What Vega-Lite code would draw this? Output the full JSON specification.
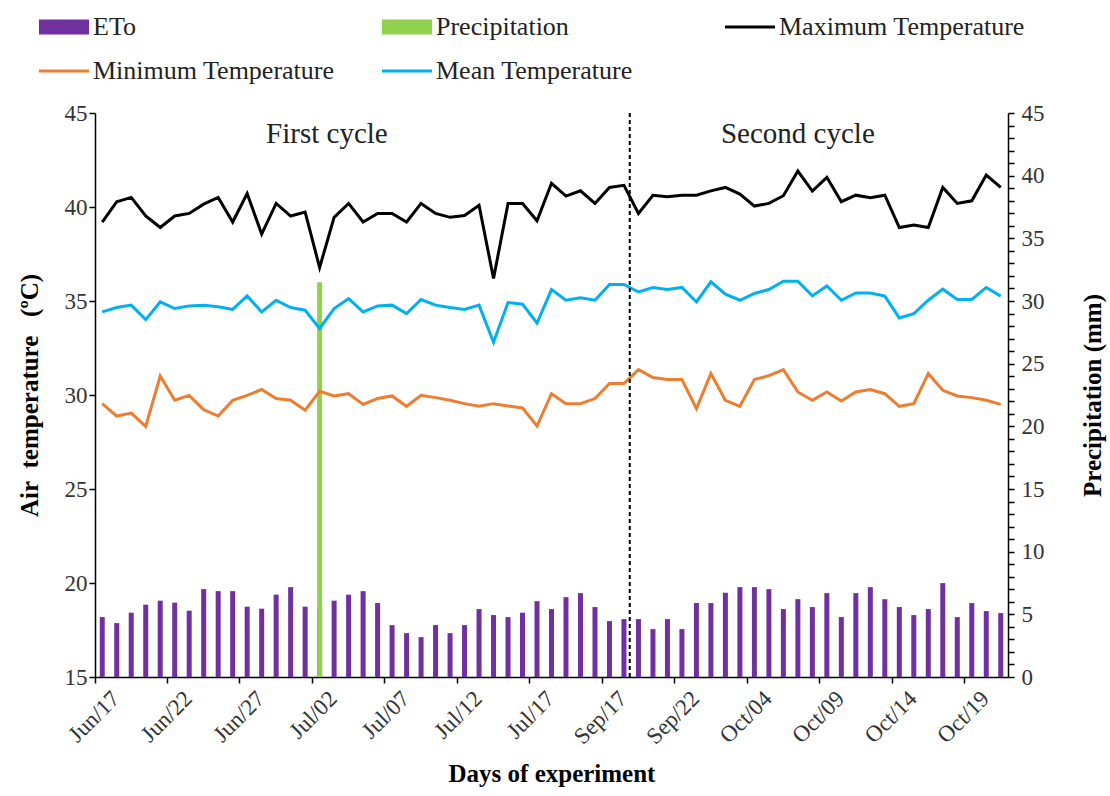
{
  "$schema": "https://vega.github.io/schema/vega-lite/v6.json",
  "width": 913,
  "height": 564,
  "autosize": {"type": "none"},
  "padding": {"left": 95, "top": 113, "right": 102, "bottom": 119},
  "background": "white",
  "config": {
    "font": "Liberation Serif",
    "view": {"stroke": null},
    "axis": {
      "grid": false,
      "domainColor": "#000",
      "domainWidth": 1.5,
      "tickColor": "#000",
      "tickWidth": 1.5,
      "tickSize": 6,
      "labelFont": "Liberation Serif",
      "labelFontSize": 23,
      "labelColor": "#333",
      "titleFont": "Liberation Serif",
      "titleFontSize": 25,
      "titleFontWeight": "bold",
      "titleColor": "#000"
    }
  },
  "data": {
    "values": [
      {"day": "Jun/17", "eto": 4.78, "precip": 0, "tmax": 39.2, "tmin": 29.54, "tmean": 34.42},
      {"day": "Jun/18", "eto": 4.30, "precip": 0, "tmax": 40.28, "tmin": 28.88, "tmean": 34.65},
      {"day": "Jun/19", "eto": 5.13, "precip": 0, "tmax": 40.51, "tmin": 29.04, "tmean": 34.78},
      {"day": "Jun/20", "eto": 5.77, "precip": 0, "tmax": 39.52, "tmin": 28.33, "tmean": 34.01},
      {"day": "Jun/21", "eto": 6.09, "precip": 0, "tmax": 38.91, "tmin": 31.01, "tmean": 34.95},
      {"day": "Jun/22", "eto": 5.93, "precip": 0, "tmax": 39.52, "tmin": 29.72, "tmean": 34.6},
      {"day": "Jun/23", "eto": 5.29, "precip": 0, "tmax": 39.66, "tmin": 29.98, "tmean": 34.74},
      {"day": "Jun/24", "eto": 7.01, "precip": 0, "tmax": 40.15, "tmin": 29.22, "tmean": 34.78},
      {"day": "Jun/25", "eto": 6.85, "precip": 0, "tmax": 40.51, "tmin": 28.88, "tmean": 34.69},
      {"day": "Jun/26", "eto": 6.85, "precip": 0, "tmax": 39.2, "tmin": 29.72, "tmean": 34.55},
      {"day": "Jun/27", "eto": 5.61, "precip": 0, "tmax": 40.72, "tmin": 29.98, "tmean": 35.27},
      {"day": "Jun/28", "eto": 5.45, "precip": 0, "tmax": 38.56, "tmin": 30.29, "tmean": 34.42},
      {"day": "Jun/29", "eto": 6.57, "precip": 0, "tmax": 40.19, "tmin": 29.81, "tmean": 35.04},
      {"day": "Jun/30", "eto": 7.17, "precip": 0, "tmax": 39.52, "tmin": 29.72, "tmean": 34.65},
      {"day": "Jul/01", "eto": 5.61, "precip": 0, "tmax": 39.73, "tmin": 29.19, "tmean": 34.51},
      {"day": "Jul/02", "eto": 5.5, "precip": 31.5, "tmax": 36.78, "tmin": 30.2, "tmean": 33.54},
      {"day": "Jul/03", "eto": 6.09, "precip": 0, "tmax": 39.45, "tmin": 29.95, "tmean": 34.6},
      {"day": "Jul/04", "eto": 6.57, "precip": 0, "tmax": 40.19, "tmin": 30.07, "tmean": 35.13},
      {"day": "Jul/05", "eto": 6.85, "precip": 0, "tmax": 39.2, "tmin": 29.5, "tmean": 34.42},
      {"day": "Jul/06", "eto": 5.90, "precip": 0, "tmax": 39.66, "tmin": 29.81, "tmean": 34.74},
      {"day": "Jul/07", "eto": 4.14, "precip": 0, "tmax": 39.66, "tmin": 29.95, "tmean": 34.78},
      {"day": "Jul/08", "eto": 3.50, "precip": 0, "tmax": 39.2, "tmin": 29.4, "tmean": 34.33},
      {"day": "Jul/09", "eto": 3.18, "precip": 0, "tmax": 40.19, "tmin": 29.98, "tmean": 35.08},
      {"day": "Jul/10", "eto": 4.14, "precip": 0, "tmax": 39.66, "tmin": 29.86, "tmean": 34.78},
      {"day": "Jul/11", "eto": 3.50, "precip": 0, "tmax": 39.45, "tmin": 29.72, "tmean": 34.65},
      {"day": "Jul/12", "eto": 4.14, "precip": 0, "tmax": 39.55, "tmin": 29.54, "tmean": 34.55},
      {"day": "Jul/13", "eto": 5.42, "precip": 0, "tmax": 40.09, "tmin": 29.4, "tmean": 34.78},
      {"day": "Jul/14", "eto": 4.94, "precip": 0, "tmax": 36.2, "tmin": 29.54, "tmean": 32.8},
      {"day": "Jul/15", "eto": 4.78, "precip": 0, "tmax": 40.19, "tmin": 29.41, "tmean": 34.92},
      {"day": "Jul/16", "eto": 5.13, "precip": 0, "tmax": 40.19, "tmin": 29.31, "tmean": 34.83},
      {"day": "Jul/17", "eto": 6.05, "precip": 0, "tmax": 39.27, "tmin": 28.35, "tmean": 33.83},
      {"day": "Jul/18", "eto": 5.42, "precip": 0, "tmax": 41.26, "tmin": 30.07, "tmean": 35.61},
      {"day": "Jul/19", "eto": 6.37, "precip": 0, "tmax": 40.58, "tmin": 29.54, "tmean": 35.04},
      {"day": "Jul/20", "eto": 6.69, "precip": 0, "tmax": 40.86, "tmin": 29.54, "tmean": 35.17},
      {"day": "Jul/21", "eto": 5.58, "precip": 0, "tmax": 40.19, "tmin": 29.81, "tmean": 35.04},
      {"day": "Sep/17", "eto": 4.46, "precip": 0, "tmax": 41.04, "tmin": 30.61, "tmean": 35.88},
      {"day": "Sep/18", "eto": 4.62, "precip": 0, "tmax": 41.15, "tmin": 30.61, "tmean": 35.88},
      {"day": "Sep/19", "eto": 4.62, "precip": 0, "tmax": 39.66, "tmin": 31.35, "tmean": 35.48},
      {"day": "Sep/20", "eto": 3.82, "precip": 0, "tmax": 40.62, "tmin": 30.93, "tmean": 35.72},
      {"day": "Sep/21", "eto": 4.62, "precip": 0, "tmax": 40.54, "tmin": 30.82, "tmean": 35.61},
      {"day": "Sep/22", "eto": 3.82, "precip": 0, "tmax": 40.63, "tmin": 30.82, "tmean": 35.72},
      {"day": "Sep/23", "eto": 5.90, "precip": 0, "tmax": 40.63, "tmin": 29.28, "tmean": 34.95},
      {"day": "Sep/24", "eto": 5.90, "precip": 0, "tmax": 40.86, "tmin": 31.14, "tmean": 36.02},
      {"day": "Sep/25", "eto": 6.72, "precip": 0, "tmax": 41.04, "tmin": 29.72, "tmean": 35.36},
      {"day": "Sep/26", "eto": 7.17, "precip": 0, "tmax": 40.69, "tmin": 29.4, "tmean": 35.04},
      {"day": "Oct/04", "eto": 7.17, "precip": 0, "tmax": 40.05, "tmin": 30.82, "tmean": 35.4},
      {"day": "Oct/05", "eto": 7.01, "precip": 0, "tmax": 40.19, "tmin": 31.03, "tmean": 35.61},
      {"day": "Oct/06", "eto": 5.42, "precip": 0, "tmax": 40.6, "tmin": 31.35, "tmean": 36.05},
      {"day": "Oct/07", "eto": 6.21, "precip": 0, "tmax": 41.91, "tmin": 30.16, "tmean": 36.05},
      {"day": "Oct/08", "eto": 5.58, "precip": 0, "tmax": 40.85, "tmin": 29.72, "tmean": 35.27},
      {"day": "Oct/09", "eto": 6.69, "precip": 0, "tmax": 41.58, "tmin": 30.16, "tmean": 35.8},
      {"day": "Oct/10", "eto": 4.78, "precip": 0, "tmax": 40.28, "tmin": 29.68, "tmean": 35.04},
      {"day": "Oct/11", "eto": 6.69, "precip": 0, "tmax": 40.63, "tmin": 30.16, "tmean": 35.43},
      {"day": "Oct/12", "eto": 7.17, "precip": 0, "tmax": 40.49, "tmin": 30.29, "tmean": 35.43},
      {"day": "Oct/13", "eto": 6.21, "precip": 0, "tmax": 40.63, "tmin": 30.07, "tmean": 35.26},
      {"day": "Oct/14", "eto": 5.58, "precip": 0, "tmax": 38.91, "tmin": 29.4, "tmean": 34.1},
      {"day": "Oct/15", "eto": 4.94, "precip": 0, "tmax": 39.04, "tmin": 29.54, "tmean": 34.33},
      {"day": "Oct/16", "eto": 5.42, "precip": 0, "tmax": 38.91, "tmin": 31.14, "tmean": 35.04},
      {"day": "Oct/17", "eto": 7.49, "precip": 0, "tmax": 41.04, "tmin": 30.25, "tmean": 35.63},
      {"day": "Oct/18", "eto": 4.78, "precip": 0, "tmax": 40.19, "tmin": 29.95, "tmean": 35.08},
      {"day": "Oct/19", "eto": 5.90, "precip": 0, "tmax": 40.33, "tmin": 29.86, "tmean": 35.08},
      {"day": "Oct/20", "eto": 5.26, "precip": 0, "tmax": 41.7, "tmin": 29.72, "tmean": 35.72},
      {"day": "Oct/21", "eto": 5.10, "precip": 0, "tmax": 41.04, "tmin": 29.5, "tmean": 35.26}
    ]
  },
  "encoding": {
    "x": {
      "field": "day",
      "type": "nominal",
      "sort": null,
      "scale": {"paddingInner": 0, "paddingOuter": 0},
      "axis": {
        "values": ["Jun/17", "Jun/22", "Jun/27", "Jul/02", "Jul/07", "Jul/12", "Jul/17", "Sep/17", "Sep/22", "Oct/04", "Oct/09", "Oct/14", "Oct/19"],
        "bandPosition": 0,
        "labelAngle": -45,
        "labelOffset": 6,
        "labelFontSize": 23,
        "labelPadding": 4,
        "title": "Days of experiment",
        "titleFontSize": 25,
        "titlePadding": 13
      }
    }
  },
  "layer": [
    {
      "layer": [
        {
          "mark": {"type": "bar", "size": 5},
          "encoding": {
            "y": {
              "field": "eto", "type": "quantitative",
              "scale": {"domain": [0, 45], "nice": false},
              "axis": {
                "orient": "right",
                "values": [0,1,2,3,4,5,6,7,8,9,10,11,12,13,14,15,16,17,18,19,20,21,22,23,24,25,26,27,28,29,30,31,32,33,34,35,36,37,38,39,40,41,42,43,44,45],
                "labelExpr": "datum.value % 5 === 0 ? datum.label : ''",
                "labelPadding": 7,
                "title": "Precipitation (mm)",
                "titleAngle": -90,
                "titleBaseline": "top",
                "titlePadding": 36
              }
            },
            "color": {
              "datum": "ETo",
              "type": "nominal",
              "scale": {
                "domain": ["ETo", "Precipitation", "Maximum Temperature", "Minimum Temperature", "Mean Temperature"],
                "range": ["#7030A0", "#92D050", "#000000", "#ED7D31", "#00B0F0"]
              },
              "legend": {
                "title": null,
                "orient": "none",
                "legendX": -44,
                "legendY": -99,
                "direction": "horizontal",
                "columns": 3,
                "gridAlign": "all",
                "columnPadding": 36,
                "rowPadding": 18,
                "padding": 0,
                "symbolSize": 900,
                "labelOffset": 16,
                "labelFont": "Liberation Serif",
                "labelFontSize": 26,
                "labelColor": "#222",
                "labelLimit": 400,
                "encode": {
                  "symbols": {
                    "update": {
                      "shape": {"signal": "datum.value === 'ETo' || datum.value === 'Precipitation' ? 'M-1.67,-0.5H1.67V0.5H-1.67Z' : 'M-1.67,0H1.67'"},
                      "fill": {"signal": "datum.value === 'ETo' || datum.value === 'Precipitation' ? scale('color', datum.value) : 'transparent'"},
                      "stroke": {"signal": "scale('color', datum.value)"},
                      "strokeWidth": {"signal": "datum.value === 'ETo' || datum.value === 'Precipitation' ? 0 : 3"},
                      "opacity": {"value": 1},
                      "fillOpacity": {"value": 1},
                      "strokeOpacity": {"value": 1}
                    }
                  }
                }
              }
            }
          }
        },
        {
          "transform": [{"filter": "datum.precip > 0"}],
          "mark": {"type": "bar", "size": 5},
          "encoding": {
            "y": {
              "field": "precip", "type": "quantitative",
              "scale": {"domain": [0, 45], "nice": false},
              "axis": {
                "orient": "right",
                "values": [0,1,2,3,4,5,6,7,8,9,10,11,12,13,14,15,16,17,18,19,20,21,22,23,24,25,26,27,28,29,30,31,32,33,34,35,36,37,38,39,40,41,42,43,44,45],
                "labelExpr": "datum.value % 5 === 0 ? datum.label : ''",
                "labelPadding": 7,
                "title": "Precipitation (mm)",
                "titleAngle": -90,
                "titleBaseline": "top",
                "titlePadding": 36
              }
            },
            "color": {"datum": "Precipitation", "type": "nominal"}
          }
        }
      ]
    },
    {
      "layer": [
        {
          "mark": {"type": "line", "strokeWidth": 3},
          "encoding": {
            "y": {
              "field": "tmax", "type": "quantitative",
              "scale": {"domain": [15, 45], "nice": false, "zero": false},
              "axis": {"orient": "left", "values": [15, 20, 25, 30, 35, 40, 45], "title": "Air\u00a0\u00a0temperature\u00a0\u00a0\u00a0(ºC)", "titlePadding": 22}
            },
            "color": {"datum": "Maximum Temperature", "type": "nominal"}
          }
        },
        {
          "mark": {"type": "line", "strokeWidth": 3},
          "encoding": {
            "y": {"field": "tmin", "type": "quantitative"},
            "color": {"datum": "Minimum Temperature", "type": "nominal"}
          }
        },
        {
          "mark": {"type": "line", "strokeWidth": 3},
          "encoding": {
            "y": {"field": "tmean", "type": "quantitative"},
            "color": {"datum": "Mean Temperature", "type": "nominal"}
          }
        },
        {
          "data": {"values": [{}]},
          "mark": {"type": "text", "fontSize": 29, "font": "Liberation Serif", "color": "#222", "align": "center", "baseline": "middle"},
          "encoding": {
            "x": {"datum": "Jul/03", "type": "nominal", "bandPosition": 0},
            "y": {"datum": 43.9, "type": "quantitative"},
            "text": {"value": "First cycle"}
          }
        },
        {
          "data": {"values": [{}]},
          "mark": {"type": "text", "fontSize": 29, "font": "Liberation Serif", "color": "#222", "align": "center", "baseline": "middle"},
          "encoding": {
            "x": {"datum": "Oct/07", "type": "nominal"},
            "y": {"datum": 43.9, "type": "quantitative"},
            "text": {"value": "Second cycle"}
          }
        }
      ]
    },
    {
      "data": {"values": [{}]},
      "mark": {"type": "rule", "strokeDash": [4, 3], "strokeWidth": 2, "color": "#000"},
      "encoding": {
        "x": {"datum": "Sep/18", "type": "nominal", "bandPosition": 0.9}
      }
    }
  ],
  "resolve": {"scale": {"y": "independent"}}
}
